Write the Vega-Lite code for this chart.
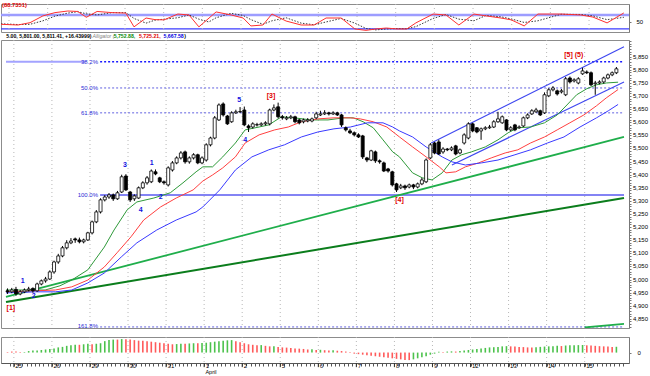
{
"$schema":"https://vega.github.io/schema/vega-lite/v6.json",
"padding":{"left":0,"top":1,"right":2,"bottom":0},
"spacing":0,
"background":"white",
"resolve":{"scale":{"color":"independent"}},
"config":{"font":"Liberation Sans","view":{"stroke":"#8c8c8c","strokeWidth":1}},
"datasets":{
"days":[{"u":0,"t":"25"},{"u":9,"t":"26"},{"u":18,"t":"29"},{"u":27,"t":"30"},{"u":36,"t":"31"},{"u":45,"t":"1"},{"u":54,"t":"2"},{"u":63,"t":"5"},{"u":72,"t":"6"},{"u":81,"t":"7"},{"u":90,"t":"8"},{"u":99,"t":"9"},{"u":108,"t":"12"},{"u":117,"t":"13"},{"u":126,"t":"14"},{"u":135,"t":"15"}],
"ylab":[{"p":4850,"t":"4,850"},{"p":4900,"t":"4,900"},{"p":4950,"t":"4,950"},{"p":5000,"t":"5,000"},{"p":5050,"t":"5,050"},{"p":5100,"t":"5,100"},{"p":5150,"t":"5,150"},{"p":5200,"t":"5,200"},{"p":5250,"t":"5,250"},{"p":5300,"t":"5,300"},{"p":5350,"t":"5,350"},{"p":5400,"t":"5,400"},{"p":5450,"t":"5,450"},{"p":5500,"t":"5,500"},{"p":5550,"t":"5,550"},{"p":5600,"t":"5,600"},{"p":5650,"t":"5,650"},{"p":5700,"t":"5,700"},{"p":5750,"t":"5,750"},{"p":5800,"t":"5,800"},{"p":5850,"t":"5,850"}],
"candles":[
{"u":-1.5,"o":4957,"h":4966,"l":4945,"c":4953},{"u":-0.5,"o":4953,"h":4968,"l":4948,"c":4960},{"u":0.5,"o":4962,"h":4972,"l":4938,"c":4945},{"u":1.5,"o":4945,"h":4960,"l":4940,"c":4953},{"u":2.5,"o":4953,"h":4966,"l":4948,"c":4960},{"u":3.5,"o":4960,"h":4972,"l":4955,"c":4964},{"u":4.5,"o":4966,"h":4970,"l":4950,"c":4957},{"u":5.5,"o":4957,"h":4988,"l":4953,"c":4983},{"u":6.5,"o":4983,"h":5000,"l":4978,"c":4995},{"u":7.5,"o":4995,"h":5010,"l":4988,"c":5002},
{"u":8.5,"o":5002,"h":5035,"l":4998,"c":5029},{"u":9.5,"o":5029,"h":5072,"l":5022,"c":5067},{"u":10.5,"o":5067,"h":5098,"l":5060,"c":5090},{"u":11.5,"o":5090,"h":5128,"l":5085,"c":5121},{"u":12.5,"o":5121,"h":5150,"l":5115,"c":5140},{"u":13.5,"o":5140,"h":5158,"l":5135,"c":5147},{"u":14.5,"o":5155,"h":5160,"l":5140,"c":5151},{"u":15.5,"o":5151,"h":5160,"l":5138,"c":5144},{"u":16.5,"o":5144,"h":5156,"l":5138,"c":5151},{"u":17.5,"o":5151,"h":5182,"l":5147,"c":5178},
{"u":18.5,"o":5178,"h":5225,"l":5172,"c":5220},{"u":19.5,"o":5220,"h":5265,"l":5215,"c":5258},{"u":20.5,"o":5258,"h":5310,"l":5252,"c":5304},{"u":21.5,"o":5304,"h":5322,"l":5298,"c":5315},{"u":22.5,"o":5315,"h":5330,"l":5308,"c":5323},{"u":23.5,"o":5323,"h":5328,"l":5300,"c":5308},{"u":24.5,"o":5308,"h":5338,"l":5304,"c":5331},{"u":25.5,"o":5334,"h":5400,"l":5330,"c":5392},{"u":26.5,"o":5395,"h":5402,"l":5338,"c":5342},{"u":27.5,"o":5334,"h":5338,"l":5296,"c":5304},
{"u":28.5,"o":5308,"h":5325,"l":5300,"c":5319},{"u":29.5,"o":5311,"h":5355,"l":5308,"c":5350},{"u":30.5,"o":5350,"h":5375,"l":5345,"c":5369},{"u":31.5,"o":5369,"h":5395,"l":5362,"c":5388},{"u":32.5,"o":5373,"h":5420,"l":5368,"c":5414},{"u":33.5,"o":5411,"h":5420,"l":5398,"c":5403},{"u":34.5,"o":5388,"h":5392,"l":5368,"c":5373},{"u":35.5,"o":5373,"h":5378,"l":5362,"c":5369},{"u":36.5,"o":5361,"h":5432,"l":5355,"c":5426},{"u":37.5,"o":5418,"h":5452,"l":5412,"c":5445},
{"u":38.5,"o":5445,"h":5470,"l":5440,"c":5464},{"u":39.5,"o":5464,"h":5490,"l":5458,"c":5483},{"u":40.5,"o":5487,"h":5492,"l":5442,"c":5449},{"u":41.5,"o":5449,"h":5470,"l":5442,"c":5464},{"u":42.5,"o":5464,"h":5482,"l":5458,"c":5476},{"u":43.5,"o":5476,"h":5480,"l":5440,"c":5445},{"u":44.5,"o":5445,"h":5470,"l":5440,"c":5464},{"u":45.5,"o":5456,"h":5520,"l":5450,"c":5514},{"u":46.5,"o":5514,"h":5545,"l":5508,"c":5540},{"u":47.5,"o":5540,"h":5624,"l":5535,"c":5617},
{"u":48.5,"o":5609,"h":5672,"l":5605,"c":5666},{"u":49.5,"o":5670,"h":5676,"l":5622,"c":5628},{"u":50.5,"o":5624,"h":5628,"l":5590,"c":5594},{"u":51.5,"o":5602,"h":5642,"l":5598,"c":5636},{"u":52.5,"o":5636,"h":5648,"l":5632,"c":5640},{"u":53.5,"o":5640,"h":5658,"l":5635,"c":5641},{"u":54.5,"o":5647,"h":5660,"l":5585,"c":5590},{"u":55.5,"o":5586,"h":5592,"l":5563,"c":5579},{"u":56.5,"o":5582,"h":5600,"l":5576,"c":5594},{"u":57.5,"o":5590,"h":5598,"l":5584,"c":5591},
{"u":58.5,"o":5590,"h":5600,"l":5586,"c":5594},{"u":59.5,"o":5594,"h":5604,"l":5588,"c":5598},{"u":60.5,"o":5594,"h":5652,"l":5588,"c":5647},{"u":61.5,"o":5647,"h":5668,"l":5642,"c":5655},{"u":62.5,"o":5659,"h":5675,"l":5615,"c":5621},{"u":63.5,"o":5621,"h":5628,"l":5610,"c":5617},{"u":64.5,"o":5613,"h":5624,"l":5608,"c":5617},{"u":65.5,"o":5617,"h":5628,"l":5612,"c":5621},{"u":66.5,"o":5621,"h":5625,"l":5596,"c":5602},{"u":67.5,"o":5609,"h":5613,"l":5592,"c":5598},
{"u":68.5,"o":5602,"h":5614,"l":5596,"c":5609},{"u":69.5,"o":5605,"h":5616,"l":5600,"c":5609},{"u":70.5,"o":5605,"h":5618,"l":5600,"c":5613},{"u":71.5,"o":5617,"h":5640,"l":5612,"c":5632},{"u":72.5,"o":5628,"h":5644,"l":5624,"c":5632},{"u":73.5,"o":5632,"h":5646,"l":5628,"c":5636},{"u":74.5,"o":5636,"h":5640,"l":5626,"c":5632},{"u":75.5,"o":5632,"h":5642,"l":5628,"c":5636},{"u":76.5,"o":5636,"h":5640,"l":5624,"c":5628},{"u":77.5,"o":5628,"h":5632,"l":5582,"c":5590},
{"u":78.5,"o":5579,"h":5584,"l":5565,"c":5571},{"u":79.5,"o":5567,"h":5575,"l":5555,"c":5560},{"u":80.5,"o":5560,"h":5565,"l":5546,"c":5552},{"u":81.5,"o":5552,"h":5558,"l":5540,"c":5544},{"u":82.5,"o":5548,"h":5552,"l":5460,"c":5468},{"u":83.5,"o":5464,"h":5468,"l":5448,"c":5456},{"u":84.5,"o":5456,"h":5495,"l":5452,"c":5491},{"u":85.5,"o":5487,"h":5492,"l":5445,"c":5453},{"u":86.5,"o":5453,"h":5458,"l":5442,"c":5449},{"u":87.5,"o":5445,"h":5450,"l":5410,"c":5414},
{"u":88.5,"o":5422,"h":5426,"l":5408,"c":5414},{"u":89.5,"o":5411,"h":5415,"l":5355,"c":5361},{"u":90.5,"o":5365,"h":5369,"l":5334,"c":5342},{"u":91.5,"o":5350,"h":5365,"l":5345,"c":5357},{"u":92.5,"o":5357,"h":5362,"l":5342,"c":5350},{"u":93.5,"o":5353,"h":5366,"l":5348,"c":5361},{"u":94.5,"o":5361,"h":5365,"l":5345,"c":5353},{"u":95.5,"o":5353,"h":5370,"l":5348,"c":5365},{"u":96.5,"o":5365,"h":5388,"l":5360,"c":5380},{"u":97.5,"o":5373,"h":5462,"l":5368,"c":5456},
{"u":98.5,"o":5464,"h":5521,"l":5460,"c":5514},{"u":99.5,"o":5521,"h":5525,"l":5478,"c":5483},{"u":100.5,"o":5525,"h":5533,"l":5475,"c":5479},{"u":101.5,"o":5487,"h":5505,"l":5480,"c":5498},{"u":102.5,"o":5498,"h":5502,"l":5490,"c":5495},{"u":103.5,"o":5495,"h":5508,"l":5490,"c":5502},{"u":104.5,"o":5510,"h":5514,"l":5474,"c":5479},{"u":105.5,"o":5483,"h":5500,"l":5478,"c":5495},{"u":106.5,"o":5521,"h":5558,"l":5515,"c":5552},{"u":107.5,"o":5540,"h":5600,"l":5535,"c":5594},
{"u":108.5,"o":5594,"h":5598,"l":5562,"c":5567},{"u":109.5,"o":5579,"h":5582,"l":5558,"c":5563},{"u":110.5,"o":5567,"h":5580,"l":5533,"c":5575},{"u":111.5,"o":5575,"h":5585,"l":5570,"c":5579},{"u":112.5,"o":5579,"h":5590,"l":5575,"c":5582},{"u":113.5,"o":5582,"h":5608,"l":5578,"c":5602},{"u":114.5,"o":5602,"h":5640,"l":5598,"c":5613},{"u":115.5,"o":5598,"h":5626,"l":5594,"c":5621},{"u":116.5,"o":5609,"h":5612,"l":5566,"c":5571},{"u":117.5,"o":5571,"h":5585,"l":5566,"c":5579},
{"u":118.5,"o":5590,"h":5594,"l":5566,"c":5571},{"u":119.5,"o":5579,"h":5588,"l":5575,"c":5582},{"u":120.5,"o":5586,"h":5622,"l":5582,"c":5617},{"u":121.5,"o":5617,"h":5634,"l":5612,"c":5628},{"u":122.5,"o":5632,"h":5650,"l":5628,"c":5644},{"u":123.5,"o":5640,"h":5655,"l":5636,"c":5647},{"u":124.5,"o":5644,"h":5648,"l":5624,"c":5628},{"u":125.5,"o":5636,"h":5714,"l":5632,"c":5705},{"u":126.5,"o":5701,"h":5730,"l":5696,"c":5724},{"u":127.5,"o":5724,"h":5738,"l":5718,"c":5731},
{"u":128.5,"o":5720,"h":5725,"l":5702,"c":5708},{"u":129.5,"o":5716,"h":5727,"l":5710,"c":5720},{"u":130.5,"o":5705,"h":5773,"l":5700,"c":5766},{"u":131.5,"o":5769,"h":5775,"l":5748,"c":5754},{"u":132.5,"o":5758,"h":5768,"l":5752,"c":5762},{"u":133.5,"o":5750,"h":5772,"l":5745,"c":5766},{"u":134.5,"o":5785,"h":5808,"l":5781,"c":5796},{"u":135.5,"o":5792,"h":5798,"l":5784,"c":5789},{"u":136.5,"o":5789,"h":5794,"l":5738,"c":5743},{"u":137.5,"o":5747,"h":5758,"l":5705,"c":5750},
{"u":138.5,"o":5750,"h":5760,"l":5745,"c":5754},{"u":139.5,"o":5754,"h":5774,"l":5748,"c":5769},{"u":140.5,"o":5769,"h":5786,"l":5764,"c":5781},{"u":141.5,"o":5781,"h":5794,"l":5776,"c":5789},{"u":142.5,"o":5789,"h":5811,"l":5784,"c":5804}
],
"alli":[
{"u":-1.86,"p":4960,"s":"lips"},{"u":2.8,"p":4960,"s":"lips"},{"u":7.4,"p":4960,"s":"lips"},{"u":10.9,"p":4976,"s":"lips"},{"u":13.7,"p":4998,"s":"lips"},{"u":17.5,"p":5037,"s":"lips"},{"u":21.4,"p":5124,"s":"lips"},{"u":23.7,"p":5189,"s":"lips"},{"u":26.8,"p":5266,"s":"lips"},{"u":29.1,"p":5296,"s":"lips"},{"u":33.1,"p":5311,"s":"lips"},{"u":37.0,"p":5331,"s":"lips"},{"u":40.0,"p":5369,"s":"lips"},{"u":43.1,"p":5411,"s":"lips"},{"u":44.7,"p":5430,"s":"lips"},{"u":47.0,"p":5430,"s":"lips"},{"u":49.4,"p":5468,"s":"lips"},{"u":52.4,"p":5521,"s":"lips"},{"u":54.7,"p":5571,"s":"lips"},{"u":58.0,"p":5582,"s":"lips"},{"u":60.3,"p":5590,"s":"lips"},{"u":63.3,"p":5621,"s":"lips"},{"u":66.3,"p":5617,"s":"lips"},{"u":70.3,"p":5609,"s":"lips"},{"u":74.3,"p":5609,"s":"lips"},{"u":78.0,"p":5617,"s":"lips"},{"u":80.3,"p":5617,"s":"lips"},{"u":82.6,"p":5602,"s":"lips"},{"u":85.0,"p":5579,"s":"lips"},{"u":87.3,"p":5533,"s":"lips"},{"u":89.6,"p":5487,"s":"lips"},{"u":91.2,"p":5468,"s":"lips"},{"u":94.3,"p":5407,"s":"lips"},{"u":96.6,"p":5388,"s":"lips"},{"u":98.9,"p":5380,"s":"lips"},{"u":101.3,"p":5407,"s":"lips"},{"u":103.6,"p":5456,"s":"lips"},{"u":105.9,"p":5476,"s":"lips"},{"u":108.2,"p":5487,"s":"lips"},{"u":111.5,"p":5506,"s":"lips"},{"u":114.5,"p":5533,"s":"lips"},{"u":116.9,"p":5560,"s":"lips"},{"u":119.2,"p":5579,"s":"lips"},{"u":122.2,"p":5582,"s":"lips"},{"u":125.5,"p":5598,"s":"lips"},{"u":128.5,"p":5628,"s":"lips"},{"u":130.8,"p":5666,"s":"lips"},{"u":133.1,"p":5705,"s":"lips"},{"u":135.5,"p":5728,"s":"lips"},{"u":137.8,"p":5743,"s":"lips"},{"u":140.1,"p":5750,"s":"lips"},{"u":142.9,"p":5753,"s":"lips"},
{"u":-1.86,"p":4953,"s":"teeth"},{"u":5.1,"p":4957,"s":"teeth"},{"u":9.8,"p":4960,"s":"teeth"},{"u":13.7,"p":4972,"s":"teeth"},{"u":17.5,"p":4998,"s":"teeth"},{"u":21.4,"p":5048,"s":"teeth"},{"u":24.4,"p":5102,"s":"teeth"},{"u":27.7,"p":5163,"s":"teeth"},{"u":30.7,"p":5227,"s":"teeth"},{"u":34.7,"p":5277,"s":"teeth"},{"u":38.4,"p":5311,"s":"teeth"},{"u":42.4,"p":5342,"s":"teeth"},{"u":44.7,"p":5376,"s":"teeth"},{"u":47.0,"p":5399,"s":"teeth"},{"u":49.4,"p":5426,"s":"teeth"},{"u":52.4,"p":5468,"s":"teeth"},{"u":54.7,"p":5521,"s":"teeth"},{"u":58.0,"p":5552,"s":"teeth"},{"u":61.7,"p":5571,"s":"teeth"},{"u":64.9,"p":5582,"s":"teeth"},{"u":68.0,"p":5602,"s":"teeth"},{"u":71.9,"p":5613,"s":"teeth"},{"u":75.7,"p":5617,"s":"teeth"},{"u":79.6,"p":5617,"s":"teeth"},{"u":81.9,"p":5613,"s":"teeth"},{"u":85.0,"p":5602,"s":"teeth"},{"u":88.2,"p":5582,"s":"teeth"},{"u":91.2,"p":5544,"s":"teeth"},{"u":94.3,"p":5506,"s":"teeth"},{"u":97.5,"p":5468,"s":"teeth"},{"u":100.6,"p":5430,"s":"teeth"},{"u":102.2,"p":5407,"s":"teeth"},{"u":104.5,"p":5411,"s":"teeth"},{"u":106.8,"p":5430,"s":"teeth"},{"u":109.9,"p":5445,"s":"teeth"},{"u":112.9,"p":5464,"s":"teeth"},{"u":116.2,"p":5483,"s":"teeth"},{"u":119.2,"p":5495,"s":"teeth"},{"u":122.2,"p":5521,"s":"teeth"},{"u":125.5,"p":5544,"s":"teeth"},{"u":128.5,"p":5571,"s":"teeth"},{"u":131.5,"p":5598,"s":"teeth"},{"u":134.8,"p":5628,"s":"teeth"},{"u":137.8,"p":5663,"s":"teeth"},{"u":140.1,"p":5693,"s":"teeth"},{"u":142.9,"p":5725,"s":"teeth"},
{"u":-1.86,"p":4949,"s":"jaw"},{"u":5.1,"p":4953,"s":"jaw"},{"u":9.8,"p":4953,"s":"jaw"},{"u":13.7,"p":4960,"s":"jaw"},{"u":17.5,"p":4987,"s":"jaw"},{"u":21.4,"p":5025,"s":"jaw"},{"u":25.4,"p":5086,"s":"jaw"},{"u":29.1,"p":5140,"s":"jaw"},{"u":33.8,"p":5189,"s":"jaw"},{"u":38.4,"p":5227,"s":"jaw"},{"u":43.1,"p":5258,"s":"jaw"},{"u":44.7,"p":5277,"s":"jaw"},{"u":48.7,"p":5342,"s":"jaw"},{"u":52.4,"p":5418,"s":"jaw"},{"u":56.3,"p":5468,"s":"jaw"},{"u":60.3,"p":5495,"s":"jaw"},{"u":64.0,"p":5514,"s":"jaw"},{"u":68.0,"p":5544,"s":"jaw"},{"u":71.9,"p":5563,"s":"jaw"},{"u":75.7,"p":5575,"s":"jaw"},{"u":79.6,"p":5582,"s":"jaw"},{"u":83.6,"p":5598,"s":"jaw"},{"u":87.3,"p":5598,"s":"jaw"},{"u":89.6,"p":5582,"s":"jaw"},{"u":91.2,"p":5567,"s":"jaw"},{"u":94.3,"p":5544,"s":"jaw"},{"u":97.5,"p":5506,"s":"jaw"},{"u":101.3,"p":5468,"s":"jaw"},{"u":103.6,"p":5449,"s":"jaw"},{"u":106.8,"p":5437,"s":"jaw"},{"u":110.6,"p":5445,"s":"jaw"},{"u":114.5,"p":5456,"s":"jaw"},{"u":118.5,"p":5476,"s":"jaw"},{"u":122.2,"p":5495,"s":"jaw"},{"u":126.2,"p":5521,"s":"jaw"},{"u":130.1,"p":5544,"s":"jaw"},{"u":133.9,"p":5582,"s":"jaw"},{"u":137.8,"p":5617,"s":"jaw"},{"u":140.6,"p":5644,"s":"jaw"},{"u":142.9,"p":5668,"s":"jaw"}
],
"osc":[
{"u":-1.86,"v":40},{"u":2.1,"v":37},{"u":4.9,"v":47},{"u":7.9,"v":76},{"u":10.7,"v":90},{"u":13.7,"v":97},{"u":16.0,"v":95},{"u":18.0,"v":70},{"u":20.5,"v":95},{"u":24.0,"v":90},{"u":27.2,"v":88},{"u":29.1,"v":29},{"u":31.9,"v":67},{"u":34.0,"v":60},{"u":36.1,"v":59},{"u":39.3,"v":84},{"u":41.9,"v":80},{"u":44.2,"v":29},{"u":48.2,"v":93},{"u":51.7,"v":80},{"u":54.5,"v":67},{"u":56.3,"v":33},{"u":59.1,"v":37},{"u":61.2,"v":84},{"u":64.5,"v":54},{"u":68.0,"v":37},{"u":71.0,"v":37},{"u":73.8,"v":67},{"u":77.3,"v":67},{"u":80.5,"v":20},{"u":83.1,"v":14},{"u":85.4,"v":20},{"u":87.8,"v":24},{"u":90.3,"v":20},{"u":92.6,"v":20},{"u":94.7,"v":46},{"u":98.7,"v":84},{"u":101.7,"v":80},{"u":104.7,"v":37},{"u":108.2,"v":84},{"u":111.0,"v":76},{"u":114.5,"v":67},{"u":116.9,"v":59},{"u":119.9,"v":33},{"u":123.1,"v":84},{"u":128.5,"v":84},{"u":133.1,"v":80},{"u":135.9,"v":71},{"u":139.2,"v":46},{"u":143.1,"v":88.7}
],
"sig":[
{"u":-1.86,"v":42},{"u":2.1,"v":39},{"u":4.9,"v":40},{"u":7.9,"v":55},{"u":10.7,"v":75},{"u":13.7,"v":88},{"u":16.0,"v":94},{"u":18.0,"v":85},{"u":20.5,"v":80},{"u":24.0,"v":90},{"u":27.2,"v":90},{"u":29.1,"v":65},{"u":31.9,"v":45},{"u":34.0,"v":58},{"u":36.1,"v":62},{"u":39.3,"v":68},{"u":41.9,"v":80},{"u":44.2,"v":62},{"u":46.5,"v":50},{"u":48.2,"v":68},{"u":51.7,"v":87},{"u":54.5,"v":78},{"u":56.3,"v":60},{"u":59.1,"v":40},{"u":61.2,"v":55},{"u":64.5,"v":68},{"u":68.0,"v":45},{"u":71.0,"v":38},{"u":73.8,"v":50},{"u":77.3,"v":65},{"u":80.5,"v":45},{"u":83.1,"v":22},{"u":85.4,"v":16},{"u":87.8,"v":20},{"u":90.3,"v":22},{"u":92.6,"v":21},{"u":94.7,"v":30},{"u":98.7,"v":65},{"u":101.7,"v":82},{"u":104.7,"v":62},{"u":108.2,"v":55},{"u":111.0,"v":78},{"u":114.5,"v":72},{"u":116.9,"v":63},{"u":119.9,"v":48},{"u":123.1,"v":55},{"u":128.5,"v":83},{"u":133.1,"v":82},{"u":135.9,"v":76},{"u":139.2,"v":60},{"u":143.1,"v":70}
],
"hist":[
{"u":-1.5,"v":0.5,"d":"dn"},{"u":-0.5,"v":1,"d":"dn"},{"u":0.5,"v":1,"d":"dn"},{"u":1.5,"v":0.5,"d":"dn"},{"u":2.5,"v":0.5,"d":"up"},{"u":3.5,"v":1.5,"d":"up"},{"u":4.5,"v":2,"d":"up"},{"u":5.5,"v":2,"d":"up"},{"u":6.5,"v":2.5,"d":"up"},{"u":7.5,"v":3,"d":"up"},{"u":8.5,"v":3.5,"d":"up"},{"u":9.5,"v":4,"d":"up"},{"u":10.5,"v":5,"d":"up"},{"u":11.5,"v":5.5,"d":"up"},{"u":12.5,"v":6.5,"d":"up"},{"u":13.5,"v":7,"d":"up"},{"u":14.5,"v":7.5,"d":"up"},{"u":15.5,"v":7.5,"d":"dn"},{"u":16.5,"v":8,"d":"up"},{"u":17.5,"v":8.5,"d":"up"},{"u":18.5,"v":8,"d":"dn"},{"u":19.5,"v":8.5,"d":"up"},{"u":20.5,"v":9,"d":"up"},{"u":21.5,"v":11,"d":"up"},{"u":22.5,"v":12,"d":"up"},{"u":23.5,"v":12.5,"d":"up"},{"u":24.5,"v":12.5,"d":"dn"},{"u":25.5,"v":13,"d":"up"},{"u":26.5,"v":12.8,"d":"dn"},{"u":27.5,"v":12.5,"d":"dn"},{"u":28.5,"v":12,"d":"dn"},{"u":29.5,"v":11.5,"d":"dn"},{"u":30.5,"v":11.5,"d":"dn"},{"u":31.5,"v":11,"d":"dn"},{"u":32.5,"v":10.5,"d":"dn"},{"u":33.5,"v":10,"d":"dn"},{"u":34.5,"v":9.5,"d":"dn"},{"u":35.5,"v":9,"d":"dn"},{"u":36.5,"v":8.5,"d":"dn"},{"u":37.5,"v":8,"d":"dn"},{"u":38.5,"v":8.2,"d":"up"},{"u":39.5,"v":8.5,"d":"up"},{"u":40.5,"v":8.5,"d":"dn"},{"u":41.5,"v":8.8,"d":"up"},{"u":42.5,"v":9,"d":"up"},{"u":43.5,"v":9,"d":"dn"},{"u":44.5,"v":9.2,"d":"up"},{"u":45.5,"v":9.5,"d":"up"},{"u":46.5,"v":10,"d":"up"},{"u":47.5,"v":10.5,"d":"up"},{"u":48.5,"v":11,"d":"up"},{"u":49.5,"v":11.5,"d":"up"},{"u":50.5,"v":11.8,"d":"up"},{"u":51.5,"v":12,"d":"up"},{"u":52.5,"v":11,"d":"dn"},{"u":53.5,"v":10,"d":"dn"},{"u":54.5,"v":9,"d":"dn"},{"u":55.5,"v":8,"d":"dn"},{"u":56.5,"v":7.5,"d":"dn"},{"u":57.5,"v":7,"d":"dn"},{"u":58.5,"v":7.2,"d":"up"},{"u":59.5,"v":6.5,"d":"dn"},{"u":60.5,"v":6,"d":"dn"},{"u":61.5,"v":6.2,"d":"up"},{"u":62.5,"v":5.5,"d":"dn"},{"u":63.5,"v":5,"d":"dn"},{"u":64.5,"v":4.8,"d":"dn"},{"u":65.5,"v":4.5,"d":"dn"},{"u":66.5,"v":4,"d":"dn"},{"u":67.5,"v":3.8,"d":"dn"},{"u":68.5,"v":3.5,"d":"dn"},{"u":69.5,"v":3,"d":"dn"},{"u":70.5,"v":3.2,"d":"up"},{"u":71.5,"v":2.5,"d":"dn"},{"u":72.5,"v":2.7,"d":"up"},{"u":73.5,"v":2.3,"d":"dn"},{"u":74.5,"v":2,"d":"dn"},{"u":75.5,"v":2.2,"d":"up"},{"u":76.5,"v":1.8,"d":"dn"},{"u":77.5,"v":1.5,"d":"dn"},{"u":78.5,"v":1,"d":"dn"},{"u":79.5,"v":0.5,"d":"dn"},{"u":80.5,"v":-1,"d":"dn"},{"u":81.5,"v":-1.5,"d":"dn"},{"u":82.5,"v":-2,"d":"dn"},{"u":83.5,"v":-2.5,"d":"dn"},{"u":84.5,"v":-3,"d":"dn"},{"u":85.5,"v":-3.5,"d":"dn"},{"u":86.5,"v":-4,"d":"dn"},{"u":87.5,"v":-4.5,"d":"dn"},{"u":88.5,"v":-5,"d":"dn"},{"u":89.5,"v":-5.5,"d":"dn"},{"u":90.5,"v":-6,"d":"dn"},{"u":91.5,"v":-6.5,"d":"dn"},{"u":92.5,"v":-7,"d":"dn"},{"u":93.5,"v":-7.2,"d":"dn"},{"u":94.5,"v":-6.5,"d":"up"},{"u":95.5,"v":-5.5,"d":"up"},{"u":96.5,"v":-4.5,"d":"up"},{"u":97.5,"v":-3.5,"d":"up"},{"u":98.5,"v":-2,"d":"up"},{"u":99.5,"v":-1,"d":"up"},{"u":100.5,"v":0.8,"d":"up"},{"u":101.5,"v":0.6,"d":"dn"},{"u":102.5,"v":1,"d":"up"},{"u":103.5,"v":1.2,"d":"up"},{"u":104.5,"v":1,"d":"dn"},{"u":105.5,"v":1.5,"d":"up"},{"u":106.5,"v":2,"d":"up"},{"u":107.5,"v":2.5,"d":"up"},{"u":108.5,"v":3,"d":"up"},{"u":109.5,"v":3.5,"d":"up"},{"u":110.5,"v":4,"d":"up"},{"u":111.5,"v":4.5,"d":"up"},{"u":112.5,"v":5,"d":"up"},{"u":113.5,"v":5.2,"d":"up"},{"u":114.5,"v":5.5,"d":"up"},{"u":115.5,"v":6,"d":"up"},{"u":116.5,"v":6.2,"d":"up"},{"u":117.5,"v":6,"d":"dn"},{"u":118.5,"v":5.8,"d":"dn"},{"u":119.5,"v":5.5,"d":"dn"},{"u":120.5,"v":5.3,"d":"dn"},{"u":121.5,"v":5,"d":"dn"},{"u":122.5,"v":4.9,"d":"dn"},{"u":123.5,"v":5.2,"d":"up"},{"u":124.5,"v":5.5,"d":"up"},{"u":125.5,"v":5.8,"d":"up"},{"u":126.5,"v":6,"d":"up"},{"u":127.5,"v":6.2,"d":"up"},{"u":128.5,"v":6.5,"d":"up"},{"u":129.5,"v":6.3,"d":"dn"},{"u":130.5,"v":6.8,"d":"up"},{"u":131.5,"v":7,"d":"up"},{"u":132.5,"v":7.1,"d":"up"},{"u":133.5,"v":7.2,"d":"up"},{"u":134.5,"v":7.3,"d":"up"},{"u":135.5,"v":7,"d":"dn"},{"u":136.5,"v":6.8,"d":"dn"},{"u":137.5,"v":6.5,"d":"dn"},{"u":138.5,"v":6.2,"d":"dn"},{"u":139.5,"v":6,"d":"dn"},{"u":140.5,"v":5.8,"d":"dn"},{"u":141.5,"v":5.5,"d":"dn"},{"u":142.5,"v":5.6,"d":"up"}
]
},
"vconcat":[
{
"width":628,"height":28,
"resolve":{"axis":{"x":"independent","y":"independent"}},
"layer":[
{"data":{"values":[{"v":80}]},"mark":{"type":"rule","color":"#9d9dff","strokeWidth":2.5,"clip":true},"encoding":{"y":{"field":"v","type":"quantitative","scale":{"domain":[7,127],"nice":false,"zero":false},"axis":{"orient":"right","values":[50],"format":"d","tickSize":2,"labelFontSize":6,"labelPadding":5,"title":null,"grid":false,"domainColor":"#777","tickColor":"#777","labelColor":"#000"}}}},
{"data":{"values":[{"v":20}]},"mark":{"type":"rule","color":"#3b3bff","strokeWidth":1.2,"clip":true},"encoding":{"y":{"field":"v","type":"quantitative","scale":{"domain":[7,127],"nice":false,"zero":false},"axis":null}}},
{"data":{"name":"days"},"mark":{"type":"rule","color":"#b8b8b8","strokeDash":[1,3],"clip":true},"encoding":{"x":{"field":"u","type":"quantitative","scale":{"domain":[-1.86,144.3],"nice":false,"zero":false},"axis":null}}},
{"data":{"name":"sig"},"mark":{"type":"line","color":"#3a3a3a","strokeWidth":1,"strokeDash":[1.5,1.5],"clip":true},"encoding":{"x":{"field":"u","type":"quantitative","scale":{"domain":[-1.86,144.3],"nice":false,"zero":false},"axis":null},"y":{"field":"v","type":"quantitative","scale":{"domain":[7,127],"nice":false,"zero":false},"axis":null}}},
{"data":{"name":"osc"},"mark":{"type":"line","color":"#ff3030","strokeWidth":1,"clip":true},"encoding":{"x":{"field":"u","type":"quantitative","scale":{"domain":[-1.86,144.3],"nice":false,"zero":false},"axis":null},"y":{"field":"v","type":"quantitative","scale":{"domain":[7,127],"nice":false,"zero":false},"axis":null}}},
{"data":{"values":[{"t":"(88.7351)","u":-1.6,"v":121}]},"mark":{"type":"text","align":"left","baseline":"middle","color":"#e00000","fontSize":5.8,"fontWeight":"bold"},"encoding":{"x":{"field":"u","type":"quantitative","scale":{"domain":[-1.86,144.3],"nice":false,"zero":false},"axis":null},"y":{"field":"v","type":"quantitative","scale":{"domain":[7,127],"nice":false,"zero":false},"axis":null},"text":{"field":"t"}}}
]
},
{
"spacing":6,
"resolve":{"scale":{"color":"independent"}},
"vconcat":[
{
"width":628,"height":288,
"resolve":{"scale":{"color":"independent"},"axis":{"x":"independent","y":"independent"}},
"encoding":{"x":{"field":"u","type":"quantitative","scale":{"domain":[-1.86,144.3],"nice":false,"zero":false},"axis":null}},
"layer":[
{"data":{"values":[{"u":-1.86,"u1":16.9,"p":5831}]},"mark":{"type":"rule","color":"#a3a3ff","strokeWidth":2,"clip":true},"encoding":{"x2":{"field":"u1"},"y":{"field":"p","type":"quantitative","scale":{"domain":[4815,5914],"nice":false,"zero":false},"axis":{"orient":"right","values":[4820,4830,4840,4850,4860,4870,4880,4890,4900,4910,4920,4930,4940,4950,4960,4970,4980,4990,5000,5010,5020,5030,5040,5050,5060,5070,5080,5090,5100,5110,5120,5130,5140,5150,5160,5170,5180,5190,5200,5210,5220,5230,5240,5250,5260,5270,5280,5290,5300,5310,5320,5330,5340,5350,5360,5370,5380,5390,5400,5410,5420,5430,5440,5450,5460,5470,5480,5490,5500,5510,5520,5530,5540,5550,5560,5570,5580,5590,5600,5610,5620,5630,5640,5650,5660,5670,5680,5690,5700,5710,5720,5730,5740,5750,5760,5770,5780,5790,5800,5810,5820,5830,5840,5850,5860,5870,5880,5890,5900,5910],"labels":false,"tickSize":2,"title":null,"grid":false,"domainColor":"#777","tickColor":"#777"}}}},
{"data":{"name":"ylab"},"mark":{"type":"text","align":"left","baseline":"middle","color":"#000","fontSize":6,"dx":4},"encoding":{"x":{"value":"width"},"y":{"field":"p","type":"quantitative","scale":{"domain":[4815,5914],"nice":false,"zero":false},"axis":null},"text":{"field":"t"}}},
{"data":{"name":"days"},"mark":{"type":"rule","color":"#b8b8b8","strokeDash":[1,3],"clip":true},"encoding":{}},
{"data":{"values":[{"u":20.4,"u1":144.3,"p":5831}]},"mark":{"type":"rule","color":"#1a1aff","strokeWidth":1.5,"strokeDash":[2,2],"clip":true},"encoding":{"x2":{"field":"u1"},"y":{"field":"p","type":"quantitative","scale":{"domain":[4815,5914],"nice":false,"zero":false},"axis":null}}},
{"data":{"values":[{"u":20.4,"u1":144.3,"p":5731},{"u":20.4,"u1":144.3,"p":5636},{"u":20.4,"u1":144.3,"p":4819}]},"mark":{"type":"rule","color":"#6060e0","strokeWidth":1,"strokeDash":[2,2],"clip":true},"encoding":{"x2":{"field":"u1"},"y":{"field":"p","type":"quantitative","scale":{"domain":[4815,5914],"nice":false,"zero":false},"axis":null}}},
{"data":{"values":[{"u":20.4,"u1":144.3,"p":5323}]},"mark":{"type":"rule","color":"#5a5af0","strokeWidth":1.5,"clip":true},"encoding":{"x2":{"field":"u1"},"y":{"field":"p","type":"quantitative","scale":{"domain":[4815,5914],"nice":false,"zero":false},"axis":null}}},
{"data":{"values":[{"t":"38.2%","u":19.9,"p":5831},{"t":"50.0%","u":19.9,"p":5731},{"t":"61.8%","u":19.9,"p":5636},{"t":"100.0%","u":19.9,"p":5323},{"t":"161.8%","u":19.9,"p":4822}]},"mark":{"type":"text","align":"right","baseline":"middle","color":"#2b2bd6","fontSize":6},"encoding":{"y":{"field":"p","type":"quantitative","scale":{"domain":[4815,5914],"nice":false,"zero":false},"axis":null},"text":{"field":"t"}}},
{"data":{"values":[{"u":-1.86,"p":4914,"u1":144.3,"p1":5311}]},"mark":{"type":"rule","color":"#0b7d1c","strokeWidth":2,"clip":true},"encoding":{"x2":{"field":"u1"},"y":{"field":"p","type":"quantitative","scale":{"domain":[4815,5914],"nice":false,"zero":false},"axis":null},"y2":{"field":"p1"}}},
{"data":{"values":[{"u":-1.86,"p":4934,"u1":144.3,"p1":5544},{"u":135,"p":4817,"u1":144.3,"p1":4831}]},"mark":{"type":"rule","color":"#1fae4b","strokeWidth":1.8,"clip":true},"encoding":{"x2":{"field":"u1"},"y":{"field":"p","type":"quantitative","scale":{"domain":[4815,5914],"nice":false,"zero":false},"axis":null},"y2":{"field":"p1"}}},
{"data":{"values":[{"u":98.7,"p":5521,"u1":144.3,"p1":5888},{"u":103.6,"p":5437,"u1":144.3,"p1":5754}]},"mark":{"type":"rule","color":"#3f48f0","strokeWidth":1.2,"clip":true},"encoding":{"x2":{"field":"u1"},"y":{"field":"p","type":"quantitative","scale":{"domain":[4815,5914],"nice":false,"zero":false},"axis":null},"y2":{"field":"p1"}}},
{"data":{"name":"alli"},"mark":{"type":"line","strokeWidth":1,"clip":true},"encoding":{"y":{"field":"p","type":"quantitative","scale":{"domain":[4815,5914],"nice":false,"zero":false},"axis":null},"color":{"field":"s","type":"nominal","scale":{"domain":["jaw","teeth","lips"],"range":["#3a3aff","#ff4040","#2f9a3a"]},"legend":null}}},
{"data":{"name":"candles"},"mark":{"type":"rule","color":"#000","strokeWidth":1,"clip":true},"encoding":{"y":{"field":"l","type":"quantitative","scale":{"domain":[4815,5914],"nice":false,"zero":false},"axis":null},"y2":{"field":"h"}}},
{"data":{"name":"candles"},"mark":{"type":"bar","width":3,"stroke":"#000","strokeWidth":0.8,"clip":true},"encoding":{"y":{"field":"o","type":"quantitative","scale":{"domain":[4815,5914],"nice":false,"zero":false},"axis":null},"y2":{"field":"c"},"fill":{"condition":{"test":"datum.c >= datum.o","value":"#ffffff"},"value":"#000000"}}},
{"data":{"values":[{"t":"1","u":2.1,"p":4995},{"t":"2","u":4.7,"p":4937},{"t":"3","u":26.3,"p":5437},{"t":"4","u":30.0,"p":5266},{"t":"1","u":32.6,"p":5445},{"t":"2","u":34.7,"p":5315},{"t":"5","u":53.3,"p":5686},{"t":"4","u":54.7,"p":5533}]},"mark":{"type":"text","align":"center","baseline":"middle","color":"#1010e0","fontSize":7,"fontWeight":"bold"},"encoding":{"y":{"field":"p","type":"quantitative","scale":{"domain":[4815,5914],"nice":false,"zero":false},"axis":null},"text":{"field":"t"}}},
{"data":{"values":[{"t":"[1]","u":-0.7,"p":4892},{"t":"[3]","u":60.8,"p":5701},{"t":"[4]","u":91.2,"p":5304},{"t":"[5] (5)","u":132.4,"p":5857}]},"mark":{"type":"text","align":"center","baseline":"middle","color":"#e00000","fontSize":7,"fontWeight":"bold"},"encoding":{"y":{"field":"p","type":"quantitative","scale":{"domain":[4815,5914],"nice":false,"zero":false},"axis":null},"text":{"field":"t"}}},
{"data":{"values":[{"t":"5.00, 5,801.00, 5,811.41, +16.43999)","u":-1.8,"p":5930},{"t":")","u":40.3,"p":5930}]},"mark":{"type":"text","align":"left","baseline":"middle","color":"#000","fontSize":5.2,"fontWeight":"bold"},"encoding":{"y":{"field":"p","type":"quantitative","scale":{"domain":[4815,5914],"nice":false,"zero":false},"axis":null},"text":{"field":"t"}}},
{"data":{"values":[{"t":"Alligator (","u":18.6,"p":5930}]},"mark":{"type":"text","align":"left","baseline":"middle","color":"#808080","fontSize":5.2,"fontStyle":"italic"},"encoding":{"y":{"field":"p","type":"quantitative","scale":{"domain":[4815,5914],"nice":false,"zero":false},"axis":null},"text":{"field":"t"}}},
{"data":{"values":[{"t":"5,752.88,","u":23.6,"p":5930,"k":"g"},{"t":"5,725.21,","u":29.6,"p":5930,"k":"r"},{"t":"5,667.58","u":35.4,"p":5930,"k":"b"}]},"mark":{"type":"text","align":"left","baseline":"middle","fontSize":5.2,"fontWeight":"bold"},"encoding":{"y":{"field":"p","type":"quantitative","scale":{"domain":[4815,5914],"nice":false,"zero":false},"axis":null},"text":{"field":"t"},"color":{"field":"k","type":"nominal","scale":{"domain":["g","r","b"],"range":["#0a8a0a","#e00000","#0000e0"]},"legend":null}}}
]
},
{
"width":628,"height":26,
"resolve":{"axis":{"x":"independent","y":"independent"}},
"encoding":{"x":{"field":"u","type":"quantitative","scale":{"domain":[-1.86,144.3],"nice":false,"zero":false},"axis":null}},
"layer":[
{"data":{"name":"hist"},"mark":{"type":"bar","width":1.6,"clip":true},"encoding":{"x":{"field":"u","type":"quantitative","scale":{"domain":[-1.86,144.3],"nice":false,"zero":false},"axis":{"values":[-1,0,1,2,3,4,5,6,7,8,9,10,11,12,13,14,15,16,17,18,19,20,21,22,23,24,25,26,27,28,29,30,31,32,33,34,35,36,37,38,39,40,41,42,43,44,45,46,47,48,49,50,51,52,53,54,55,56,57,58,59,60,61,62,63,64,65,66,67,68,69,70,71,72,73,74,75,76,77,78,79,80,81,82,83,84,85,86,87,88,89,90,91,92,93,94,95,96,97,98,99,100,101,102,103,104,105,106,107,108,109,110,111,112,113,114,115,116,117,118,119,120,121,122,123,124,125,126,127,128,129,130,131,132,133,134,135,136,137,138,139,140,141,142,143,144],"labels":false,"tickSize":3,"title":null,"grid":false,"domainColor":"#555","tickColor":"#555"}},"y":{"field":"v","type":"quantitative","scale":{"domain":[-10,15],"nice":false,"zero":false},"axis":{"orient":"right","values":[0],"format":"d","tickSize":2,"labelFontSize":6,"labelPadding":6,"title":null,"grid":false,"domainColor":"#777","tickColor":"#777","labelColor":"#000"}},"y2":{"datum":0},"color":{"field":"d","type":"nominal","scale":{"domain":["up","dn"],"range":["#4cc24c","#ff5a5a"]},"legend":null}}},
{"data":{"name":"days"},"mark":{"type":"rule","color":"#b8b8b8","strokeDash":[1,3],"clip":true},"encoding":{}},
{"data":{"name":"days"},"mark":{"type":"rule","color":"#333","strokeWidth":1},"encoding":{"y":{"datum":-10,"type":"quantitative","scale":{"domain":[-10,15],"nice":false,"zero":false},"axis":null},"y2":{"datum":-14}}},
{"data":{"name":"days"},"mark":{"type":"text","align":"left","baseline":"middle","color":"#000","fontSize":6,"dx":1.5},"encoding":{"y":{"datum":-13,"type":"quantitative","scale":{"domain":[-10,15],"nice":false,"zero":false},"axis":null},"text":{"field":"t"}}},
{"data":{"values":[{"t":"April","u":45.3,"v":-18.8}]},"mark":{"type":"text","align":"left","baseline":"middle","color":"#000","fontSize":5.5},"encoding":{"y":{"field":"v","type":"quantitative","scale":{"domain":[-10,15],"nice":false,"zero":false},"axis":null},"text":{"field":"t"}}}
]
}
]
}
]
}
